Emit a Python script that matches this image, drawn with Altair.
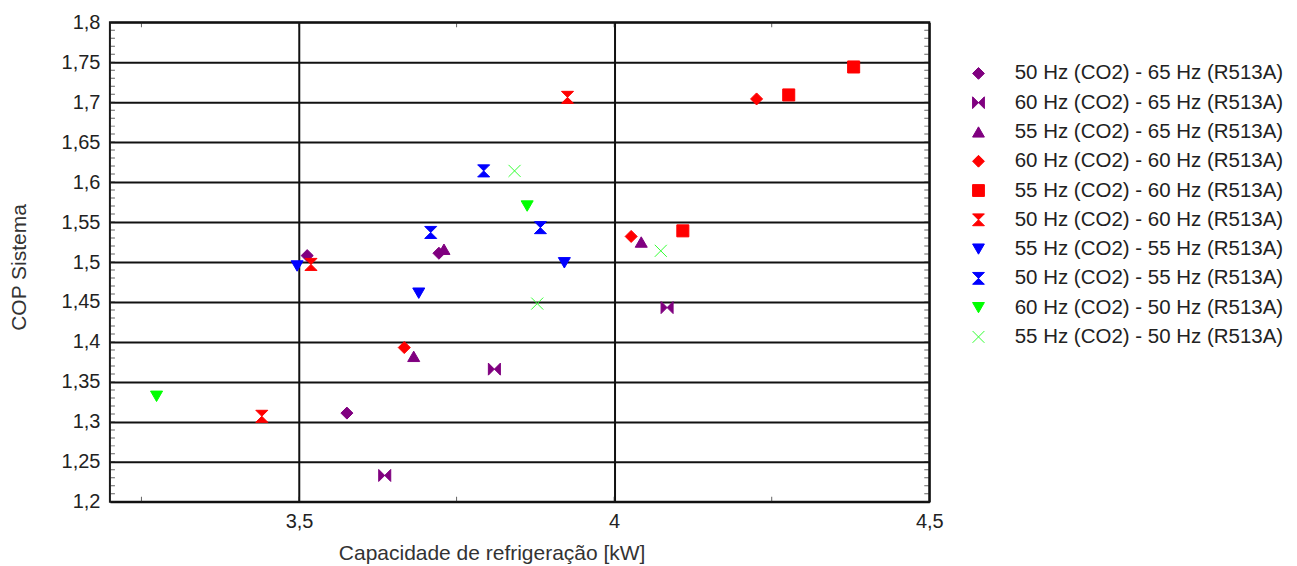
import altair as alt
import pandas as pd

# ---- data ----
series = [
    "50 Hz (CO2) - 65 Hz (R513A)",
    "60 Hz (CO2) - 65 Hz (R513A)",
    "55 Hz (CO2) - 65 Hz (R513A)",
    "60 Hz (CO2) - 60 Hz (R513A)",
    "55 Hz (CO2) - 60 Hz (R513A)",
    "50 Hz (CO2) - 60 Hz (R513A)",
    "55 Hz (CO2) - 55 Hz (R513A)",
    "50 Hz (CO2) - 55 Hz (R513A)",
    "60 Hz (CO2) - 50 Hz (R513A)",
    "55 Hz (CO2) - 50 Hz (R513A)",
]

s1_x = [3.576, 3.513, 3.722]
s1_y = [1.311, 1.508, 1.511]
s2_x = [3.636, 3.810, 4.084]
s2_y = [1.233, 1.366, 1.443]
s3_x = [3.682, 3.730, 4.043]
s3_y = [1.382, 1.516, 1.525]
s4_x = [3.667, 4.027, 4.226]
s4_y = [1.393, 1.532, 1.704]
s5_x = [4.109, 4.277, 4.380]
s5_y = [1.539, 1.709, 1.744]
s6_x = [3.441, 3.519, 3.926]
s6_y = [1.307, 1.497, 1.706]
s7_x = [3.497, 3.690, 3.921]
s7_y = [1.495, 1.461, 1.499]
s8_x = [3.709, 3.793, 3.883]
s8_y = [1.537, 1.614, 1.543]
s9_x = [3.274, 3.862]
s9_y = [1.332, 1.570]
s10_x = [3.842, 3.878, 4.074]
s10_y = [1.614, 1.448, 1.514]

xs = [s1_x, s2_x, s3_x, s4_x, s5_x, s6_x, s7_x, s8_x, s9_x, s10_x]
ys = [s1_y, s2_y, s3_y, s4_y, s5_y, s6_y, s7_y, s8_y, s9_y, s10_y]

x_domain = [3.2, 4.5]
y_domain = [1.2, 1.8]
x_labels = [3.5, 4.0, 4.5]
y_labels = [1.2, 1.25, 1.3, 1.35, 1.4, 1.45, 1.5, 1.55, 1.6, 1.65, 1.7, 1.75, 1.8]
x_minor = [3.25, 3.5, 3.75, 4.0, 4.25]
y_minor = [round(1.2 + i * 0.01, 2) for i in range(61)]

HOURGLASS = "M-1,-1L1,-1L-1,1L1,1Z"
BOWTIE = "M-1,-1L1,1L1,-1L-1,1Z"
XSHAPE = "M-1,-1L1,1M1,-1L-1,1"

colors = ["#800080", "#800080", "#800080",
          "#FF0000", "#FF0000", "#FF0000",
          "#0000FF", "#0000FF",
          "#00FF00", "#33FF33"]
shapes = ["diamond", BOWTIE, "triangle-up",
          "diamond", "square", HOURGLASS,
          "triangle-down", HOURGLASS,
          "triangle-down", XSHAPE]

rows = []
for name, xv, yv in zip(series, xs, ys):
    for a, b in zip(xv, yv):
        rows.append({"serie": name, "cap": a, "cop": b})
df = pd.DataFrame(rows)

FONT = "Liberation Sans"
xscale = alt.Scale(domain=x_domain, nice=False, zero=False)
yscale = alt.Scale(domain=y_domain, nice=False, zero=False)

xaxis = alt.Axis(
    values=x_labels, labelExpr="replace(toString(datum.value), '.', ',')",
    title="Capacidade de refrigeração [kW]", grid=True, ticks=False, domain=False,
    labelPadding=10, titleX=382, titleY=58, titleAlign="center",
    titleBaseline="alphabetic", labelFlush=False)
yaxis = alt.Axis(
    values=y_labels, labelExpr="replace(toString(datum.value), '.', ',')",
    title="COP Sistema", grid=True, ticks=False, domain=False,
    labelPadding=10, titleX=-90, titleY=245, titleAngle=270,
    titleAlign="center", titleBaseline="middle", labelFlush=False)

legend = alt.Legend(
    title=None, orient="none", legendX=859, legendY=41,
    labelFontSize=20.5, labelFont=FONT, labelColor="#222",
    symbolSize=140, symbolStrokeWidth=1, rowPadding=8.3,
    labelOffset=26, labelLimit=400,
)

points = alt.Chart(df).mark_point(filled=True, size=145, strokeWidth=1, opacity=1).encode(
    x=alt.X("cap:Q", scale=xscale, axis=xaxis),
    y=alt.Y("cop:Q", scale=yscale, axis=yaxis),
    color=alt.Color("serie:N", scale=alt.Scale(domain=series, range=colors), legend=legend),
    stroke=alt.Stroke("serie:N", scale=alt.Scale(domain=series, range=colors), legend=legend),
    shape=alt.Shape("serie:N", scale=alt.Scale(domain=series, range=shapes), legend=legend),
)

left_df = pd.DataFrame({"cap": [x_domain[0]] * len(y_minor), "cop": y_minor})
right_df = pd.DataFrame({"cap": [x_domain[1]] * len(y_minor), "cop": y_minor})
bottom_df = pd.DataFrame({"cap": x_minor, "cop": [y_domain[0]] * len(x_minor)})
top_df = pd.DataFrame({"cap": x_minor, "cop": [y_domain[1]] * len(x_minor)})


def tick_layer(d, orient):
    return alt.Chart(d).mark_tick(orient=orient, size=10, thickness=1, color="#222", clip=True).encode(
        x=alt.X("cap:Q", scale=xscale, axis=xaxis),
        y=alt.Y("cop:Q", scale=yscale, axis=yaxis),
    )


chart = alt.layer(
    points,
    tick_layer(left_df, "horizontal"),
    tick_layer(right_df, "horizontal"),
    tick_layer(bottom_df, "vertical"),
    tick_layer(top_df, "vertical"),
).properties(
    width=820, height=480,
    padding={"left": 102, "top": 14, "right": 360, "bottom": 62},
    autosize=alt.AutoSizeParams(type="none"),
).configure_view(
    stroke="#1a1a1a", strokeWidth=2,
).configure_axis(
    labelFont=FONT, labelFontSize=20, labelColor="#222",
    titleFont=FONT, titleFontSize=21, titleFontWeight="normal", titleColor="#333",
    gridColor="#111", gridWidth=2, gridOpacity=1,
)

chart.save("out.html", embed_options={"renderer": "svg", "actions": False})
